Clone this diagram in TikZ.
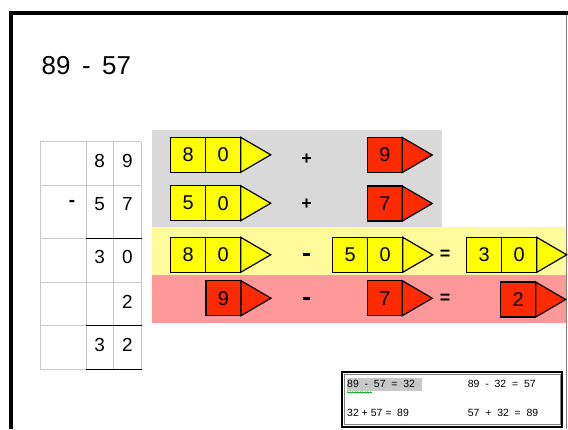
\documentclass[tikz,border=0pt]{standalone}
\usepackage{fontspec}
\setmainfont{Liberation Sans}
\usetikzlibrary{calc,decorations.pathmorphing}
\definecolor{pyellow}{HTML}{FFFF00}
\definecolor{pred}{HTML}{FF2B00}
\definecolor{bandgrey}{HTML}{D9D9D9}
\definecolor{bandyellow}{HTML}{FFFA9A}
\definecolor{bandpink}{HTML}{FF9999}
\definecolor{tablegrey}{HTML}{C8C8C8}
\definecolor{hlgrey}{HTML}{C8C8C8}
\tikzset{
  cell/.style={draw=black, line width=1.2bp, minimum width=35bp, minimum height=35bp,
    inner sep=0pt, outer sep=0pt, font=\fontsize{20}{20}\selectfont},
  tipshape/.style={draw=black, line width=1.2bp, line join=miter},
  tabdigit/.style={inner sep=0pt, font=\fontsize{19}{19}\selectfont},
  opsign/.style={inner sep=0pt, font=\fontsize{18}{18}\selectfont\bfseries},
  eqtext/.style={inner sep=0pt, anchor=west, font=\fontsize{10.5}{10.5}\selectfont},
  gridline/.style={draw=tablegrey, line width=0.9bp},
  sumline/.style={draw=black, line width=1.5bp},
}
\newcommand\twopencil[5]{%
  \node[cell, fill=pyellow, anchor=north west] (#1a) at (#2,#3) {#4};
  \node[cell, fill=pyellow, anchor=north west] (#1b) at (#1a.north east) {#5};
  \draw[tipshape, fill=pyellow] (#1b.north east) -- ($(#1b.east)+(30,0)$) -- (#1b.south east) -- cycle;
}
\newcommand\onepencil[4]{%
  \node[cell, fill=pred, anchor=north west] (#1a) at (#2,#3) {#4};
  \draw[tipshape, fill=pred] (#1a.north east) -- ($(#1a.east)+(30,0)$) -- (#1a.south east) -- cycle;
}
\newcommand\minusbar{\rule{7bp}{2.8bp}}
\begin{document}
\begin{tikzpicture}[x=1bp,y=-1bp]
\useasboundingbox (0,0) rectangle (568,429);
% frame
\draw[line width=4bp] (10.5,429) -- (10.5,12.5) -- (568,12.5);
\draw[line width=1.5bp, draw=gray] (566.5,14.5) -- (566.5,429);
% title
\node[inner sep=0pt, anchor=west, font=\fontsize{26}{26}\selectfont] (title) at (41.5,66) {89 \,-\, 57};
% bands
\fill[bandgrey] (151.7,130) rectangle (441.7,226.8);
\fill[bandyellow] (152,226.8) rectangle (566,275);
\fill[bandpink] (152,275) rectangle (566,323.3);
% table grid
\foreach \xx in {40,86,113.3,141} \draw[gridline] (\xx,141.7) -- (\xx,369.5);
\foreach \yy in {141.7,185,238.5,282,325.7,369.5} \draw[gridline] (40,\yy) -- (141,\yy);
\foreach \yy in {238.5,325.7,369.5} \draw[sumline] (86,\yy) -- (141.5,\yy);
% table digits
\node[tabdigit] (ta1) at (99.7,161) {8};
\node[tabdigit] (ta2) at (127.3,161) {9};
\node[tabdigit, font=\fontsize{19}{19}\selectfont\bfseries] (tbm) at (72,203) {-};
\node[tabdigit] (tb1) at (99.7,204) {5};
\node[tabdigit] (tb2) at (127.3,204) {7};
\node[tabdigit] (tc1) at (99.7,257) {3};
\node[tabdigit] (tc2) at (127.3,257) {0};
\node[tabdigit] (td2) at (127.3,302) {2};
\node[tabdigit] (te1) at (99.7,345) {3};
\node[tabdigit] (te2) at (127.3,345) {2};
% pencils row 1 and 2
\twopencil{pA}{170.7}{137.3}{8}{0}
\onepencil{pB}{367.3}{137.5}{9}
\node[opsign] (plus1) at (306.7,159) {+};
\twopencil{pC}{170.7}{185.7}{5}{0}
\onepencil{pD}{367.3}{186}{7}
\node[opsign] (plus2) at (306.7,204) {+};
% row 3
\twopencil{pE}{170.7}{237.3}{8}{0}
\node[inner sep=0pt] (minus1) at (306.7,254.5) {\minusbar};
\twopencil{pF}{332.7}{237.3}{5}{0}
\node[opsign] (eq1) at (445,254.5) {=};
\twopencil{pG}{466.7}{237.3}{3}{0}
% row 4
\onepencil{pH}{206}{280.7}{9}
\node[inner sep=0pt] (minus2) at (306.7,298.5) {\minusbar};
\onepencil{pI}{367.3}{280.7}{7}
\node[opsign] (eq2) at (445,298.5) {=};
\onepencil{pJ}{500.7}{282}{2}
% bottom box
\draw[line width=2bp] (341.7,371.7) rectangle (562.3,426.7);
\draw[line width=0.6bp, draw=gray] (344.2,374.2) rectangle (559.8,424.2);
\fill[hlgrey] (346.7,378) rectangle (421.7,390.7);
\draw[draw=green!60!black, line width=0.6bp, decorate, decoration={snake, amplitude=0.7bp, segment length=2.5bp}] (347,392.5) -- (372,392.5);
\node[eqtext] (e1) at (347,384) {89 \ - \ 57 \ = \ 32};
\node[eqtext] (e2) at (467.7,384) {89 \ - \ 32 \ = \ 57};
\node[eqtext] (e3) at (347,413) {32 + 57 = \ 89};
\node[eqtext] (e4) at (467.7,413) {57 \ + \ 32 \ = \ 89};
\end{tikzpicture}
\end{document}
